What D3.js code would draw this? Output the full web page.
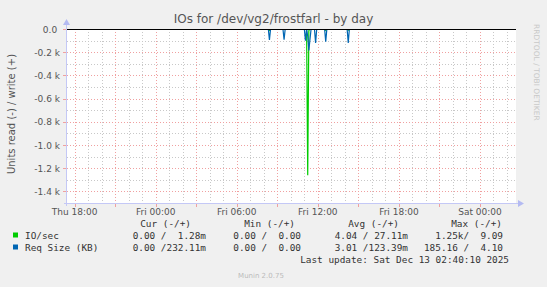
<!DOCTYPE html>
<html>
<head>
<meta charset="utf-8">
<script src="https://cdn.jsdelivr.net/npm/d3@7"></script>
<style>
  html, body { margin: 0; padding: 0; background: #f0f0f0; }
  svg { display: block; }
  text { font-family: "DejaVu Sans", sans-serif; }
  .mono { font-family: "DejaVu Sans Mono", monospace; white-space: pre; }
</style>
</head>
<body>
<div id="chart"></div>
<script>
// ---- data (5 minute samples, read side negative) ----
const timeStart = "2025-12-11 17:26";
const timeEnd = "2025-12-13 02:40";

const ioTimes = ["2025-12-11 17:26", "2025-12-12 08:20", "2025-12-12 08:25", "2025-12-12 08:30",
  "2025-12-12 11:10", "2025-12-12 11:15", "2025-12-12 11:20", "2025-12-12 11:25",
  "2025-12-12 12:30", "2025-12-12 12:35", "2025-12-12 12:40",
  "2025-12-12 14:10", "2025-12-12 14:15", "2025-12-12 14:20", "2025-12-13 02:40"];
const ioRead = [0, 0, -12, 0, 0, -1260, -14, 0, 0, -12, 0, 0, -10, 0, 0];

const reqTimes = ["2025-12-11 17:26", "2025-12-12 08:20", "2025-12-12 08:25", "2025-12-12 08:30",
  "2025-12-12 09:25", "2025-12-12 09:30", "2025-12-12 09:35",
  "2025-12-12 11:00", "2025-12-12 11:05", "2025-12-12 11:10", "2025-12-12 11:15",
  "2025-12-12 11:20", "2025-12-12 11:25", "2025-12-12 11:30",
  "2025-12-12 11:45", "2025-12-12 11:50", "2025-12-12 11:55",
  "2025-12-12 12:30", "2025-12-12 12:35", "2025-12-12 12:40",
  "2025-12-12 14:10", "2025-12-12 14:15", "2025-12-12 14:20", "2025-12-13 02:40"];
const reqRead = [0, 0, -95, 0, 0, -92, 0, 0, -100, 0, -60, -185, -90, 0,
  0, -120, 0, 0, -110, 0, 0, -120, 0, 0];

const yTickValues = [0, -200, -400, -600, -800, -1000, -1200, -1400];
const yTickLabels = ["0.0 ", "-0.2 k", "-0.4 k", "-0.6 k", "-0.8 k", "-1.0 k", "-1.2 k", "-1.4 k"];

const legendNames = ["IO/sec", "Req Size (KB)"];
const legendColors = ["#00cc00", "#0066b3"];
const columnHeaders = ["Cur (-/+)", "Min (-/+)", "Avg (-/+)", "Max (-/+)"];
const curValues = ["0.00 /  1.28m", "0.00 /232.11m"];
const minValues = ["0.00 /  0.00", "0.00 /  0.00"];
const avgValues = ["4.04 / 27.11m", "3.01 /123.39m"];
const maxValues = ["1.25k/  9.09", "185.16 /  4.10"];

const chartTitle = "IOs for /dev/vg2/frostfarl - by day";
const yLabel = "Units read (-) / write (+)";
const lastUpdate = "Last update: Sat Dec 13 02:40:10 2025";
const footer = "Munin 2.0.75";
const watermark = "RRDTOOL / TOBI OETIKER";

// ---- layout ----
const W = 547, H = 287;
const plot = {left: 67, right: 516, top: 29, bottom: 203};
const parse = d3.utcParse("%Y-%m-%d %H:%M");

const svg = d3.select("#chart").append("svg")
    .attr("width", W)
    .attr("height", H);

svg.append("rect").attr("width", W).attr("height", H).attr("fill", "#f0f0f0");

const x = d3.scaleUtc()
    .domain([parse(timeStart), parse(timeEnd)])
    .range([plot.left, plot.right]);

const y = d3.scaleLinear()
    .domain([-1500, 0])
    .range([plot.bottom, plot.top]);

// plot canvas
svg.append("rect")
    .attr("x", plot.left)
    .attr("y", plot.top)
    .attr("width", plot.right - plot.left)
    .attr("height", plot.bottom - plot.top)
    .attr("fill", "#ffffff");

svg.append("clipPath").attr("id", "clip")
  .append("rect")
    .attr("x", plot.left)
    .attr("y", plot.top)
    .attr("width", plot.right - plot.left)
    .attr("height", plot.bottom - plot.top);

const grid = svg.append("g");
const px = v => Math.round(v) + 0.5;

// minor grid (1h / 100)
grid.append("g").selectAll("line")
  .data(x.ticks(d3.utcHour.every(1)))
  .join("line")
    .attr("x1", d => px(x(d)))
    .attr("x2", d => px(x(d)))
    .attr("y1", plot.top)
    .attr("y2", plot.bottom)
    .attr("stroke", "#c8c8c8")
    .attr("stroke-dasharray", "1 2");

grid.append("g").selectAll("line")
  .data(d3.range(-1500, 0, 100))
  .join("line")
    .attr("x1", plot.left)
    .attr("x2", plot.right)
    .attr("y1", d => px(y(d)))
    .attr("y2", d => px(y(d)))
    .attr("stroke", "#c8c8c8")
    .attr("stroke-dasharray", "1 2");

// major grid (3h / 200)
grid.append("g").selectAll("line")
  .data(x.ticks(d3.utcHour.every(3)))
  .join("line")
    .attr("x1", d => px(x(d)))
    .attr("x2", d => px(x(d)))
    .attr("y1", plot.top)
    .attr("y2", plot.bottom)
    .attr("stroke", "#f0a0a0")
    .attr("stroke-dasharray", "1 2");

grid.append("g").selectAll("line")
  .data(x.ticks(d3.utcHour.every(3)))
  .join("line")
    .attr("x1", d => px(x(d)))
    .attr("x2", d => px(x(d)))
    .attr("y1", plot.bottom + 1)
    .attr("y2", plot.bottom + 4)
    .attr("stroke", "#f0a0a0");

grid.append("g").selectAll("line")
  .data(yTickValues)
  .join("line")
    .attr("x1", plot.left)
    .attr("x2", plot.right)
    .attr("y1", d => px(y(d)))
    .attr("y2", d => px(y(d)))
    .attr("stroke", "#f0a0a0")
    .attr("stroke-dasharray", "1 2");

grid.append("g").selectAll("line")
  .data(yTickValues)
  .join("line")
    .attr("x1", plot.left - 4)
    .attr("x2", plot.left - 1)
    .attr("y1", d => px(y(d)))
    .attr("y2", d => px(y(d)))
    .attr("stroke", "#f0a0a0");

// series
const lineGen = d3.line()
    .x(d => x(d[0]))
    .y(d => y(d[1]));

const series = [
  {color: legendColors[0], points: ioTimes.map((t, i) => [parse(t), ioRead[i]])},
  {color: legendColors[1], points: reqTimes.map((t, i) => [parse(t), reqRead[i]])}
];

svg.append("g").attr("clip-path", "url(#clip)")
  .selectAll("path")
  .data(series)
  .join("path")
    .attr("d", d => lineGen(d.points))
    .attr("fill", "none")
    .attr("stroke", d => d.color)
    .attr("stroke-width", 1.2);

// zero line
svg.append("line")
    .attr("x1", plot.left)
    .attr("x2", plot.right)
    .attr("y1", px(y(0)))
    .attr("y2", px(y(0)))
    .attr("stroke", "#000");

// axes with arrows
const axisColor = "#c4c8f6";
svg.append("line")
    .attr("x1", plot.left - 0.5).attr("x2", plot.left - 0.5)
    .attr("y1", plot.bottom + 3).attr("y2", plot.top - 4)
    .attr("stroke", axisColor);
svg.append("line")
    .attr("x1", plot.left - 3).attr("x2", plot.right + 3)
    .attr("y1", plot.bottom + 0.5).attr("y2", plot.bottom + 0.5)
    .attr("stroke", axisColor);
svg.append("path")
    .attr("d", `M${plot.left - 4},${plot.top - 4} L${plot.left - 0.5},${plot.top - 10} L${plot.left + 3},${plot.top - 4} Z`)
    .attr("fill", "#b4baf2");
svg.append("path")
    .attr("d", `M${plot.right + 2},${plot.bottom - 3} L${plot.right + 8},${plot.bottom + 0.5} L${plot.right + 2},${plot.bottom + 4} Z`)
    .attr("fill", "#b4baf2");

// y tick labels
svg.append("g").selectAll("text")
  .data(yTickValues)
  .join("text")
    .attr("x", 60)
    .attr("y", d => y(d) + 3.5)
    .attr("text-anchor", "end")
    .attr("font-size", "9px")
    .attr("fill", "#555")
    .style("white-space", "pre")
    .text((d, i) => yTickLabels[i]);

// x tick labels
const fmt = d3.utcFormat("%a %H:%M");
svg.append("g").selectAll("text")
  .data(x.ticks(d3.utcHour.every(6)))
  .join("text")
    .attr("x", d => x(d))
    .attr("y", 215)
    .attr("text-anchor", "middle")
    .attr("font-size", "9px")
    .attr("fill", "#555")
    .text(d => fmt(d));

// titles
svg.append("text")
    .attr("x", W / 2)
    .attr("y", 23)
    .attr("text-anchor", "middle")
    .attr("font-size", "12px")
    .attr("fill", "#555")
    .text(chartTitle);

svg.append("text")
    .attr("transform", "translate(15,114) rotate(-90)")
    .attr("text-anchor", "middle")
    .attr("font-size", "10px")
    .attr("fill", "#555")
    .text(yLabel);

svg.append("text")
    .attr("transform", "translate(534,24) rotate(90)")
    .attr("font-size", "7.5px")
    .attr("fill", "#c8c8c8")
    .text(watermark);

// legend
const legendY = [239, 251];
const headerEnds = [191, 295, 399, 502];
const valueEnds = [206, 301, 408, 503];
const columns = [curValues, minValues, avgValues, maxValues];

svg.append("g").selectAll("text")
  .data(columnHeaders)
  .join("text")
    .attr("class", "mono")
    .attr("x", (d, i) => headerEnds[i])
    .attr("y", 227)
    .attr("text-anchor", "end")
    .attr("font-size", "9.4px")
    .attr("fill", "#333")
    .text(d => d);

legendNames.forEach((name, r) => {
  svg.append("rect")
      .attr("x", 13)
      .attr("y", legendY[r] - 6.5)
      .attr("width", 5)
      .attr("height", 5)
      .attr("fill", legendColors[r]);
  svg.append("text")
      .attr("class", "mono")
      .attr("x", 25)
      .attr("y", legendY[r])
      .attr("font-size", "9.4px")
      .attr("fill", "#333")
      .text(name);
  columns.forEach((col, c) => {
    svg.append("text")
        .attr("class", "mono")
        .attr("x", valueEnds[c])
        .attr("y", legendY[r])
        .attr("text-anchor", "end")
        .attr("font-size", "9.4px")
        .attr("fill", "#333")
        .text(col[r]);
  });
});

svg.append("text")
    .attr("class", "mono")
    .attr("x", 509)
    .attr("y", 263)
    .attr("text-anchor", "end")
    .attr("font-size", "9.4px")
    .attr("fill", "#333")
    .text(lastUpdate);

svg.append("text")
    .attr("x", 261)
    .attr("y", 278)
    .attr("text-anchor", "middle")
    .attr("font-size", "7px")
    .attr("fill", "#bbb")
    .text(footer);
</script>
</body>
</html>
